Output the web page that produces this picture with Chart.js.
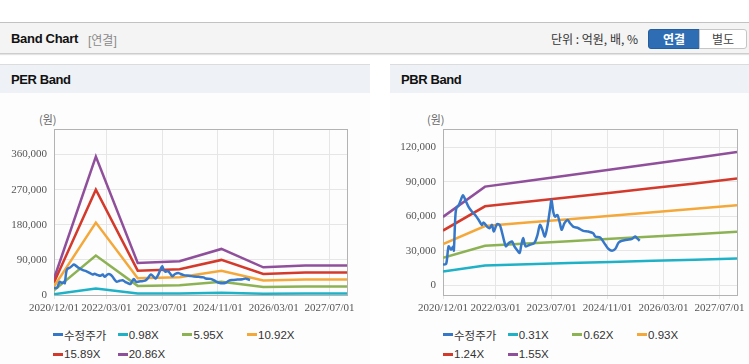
<!DOCTYPE html>
<html>
  <head>
    <meta charset="UTF-8" />
    <title>Band Chart</title>
    <script src="https://cdn.jsdelivr.net/npm/chart.js"></script>
    <style>
      body {
        margin: 0;
        width: 749px;
        height: 364px;
        overflow: hidden;
        background: #fff;
        position: relative;
        font-family: "Liberation Sans", "Noto Sans CJK KR", sans-serif;
      }

      .topbar {
        position: absolute;
        left: 0;
        top: 22px;
        width: 749px;
        height: 30px;
        background: #f4f4f4;
        border-top: 1px solid #c2c2c2;
        border-bottom: 1px solid #cdcdcd;
        box-shadow: 0 1px 1px #e4e4e4;
      }

      .topbar .title {
        position: absolute;
        left: 11px;
        top: 8px;
        font-size: 13px;
        font-weight: bold;
        color: #111;
        letter-spacing: -0.3px;
      }

      .topbar .sub {
        position: absolute;
        left: 88px;
        top: 8px;
        font-size: 12px;
        color: #8a8a8a;
      }

      .topbar .unit {
        position: absolute;
        left: 551px;
        top: 8px;
        font-size: 12px;
        color: #333;
        font-family: "Noto Sans CJK KR", sans-serif;
        line-height: 15px;
      }

      .btn {
        position: absolute;
        top: 6px;
        height: 18px;
        line-height: 18px;
        text-align: center;
        font-size: 12px;
        font-family: "Noto Sans CJK KR", sans-serif;
      }

      .btn.on {
        left: 648px;
        width: 50px;
        background: #2e6db4;
        border: 1px solid #255d9d;
        border-radius: 3px 0 0 3px;
        color: #fff;
        font-weight: bold;
      }

      .btn.off {
        left: 699px;
        width: 46px;
        background: #fff;
        border: 1px solid #c6c6c6;
        border-radius: 0 3px 3px 0;
        color: #444;
      }

      .panel {
        position: absolute;
        top: 64px;
        height: 299px;
        background: #fdfdfd;
        border-top: 1px solid #dcdcdc;
        border-bottom: 1px solid #d0d0d0;
      }

      .panel-head {
        height: 28px;
        background: #eef1f6;
        font-size: 13px;
        font-weight: bold;
        color: #111;
        line-height: 30px;
        padding-left: 11px;
        letter-spacing: -0.4px;
      }

      .unit-label {
        position: absolute;
        top: 46px;
        font-size: 11px;
        color: #666;
        font-family: "Noto Sans CJK KR", sans-serif;
      }

      canvas {
        position: absolute;
        left: 0;
        top: 45px;
      }

      .legend {
        position: absolute;
        top: 257px;
        width: 260px;
      }

      .legend-item {
        display: inline-flex;
        align-items: center;
        width: 64.7px;
        height: 14.7px;
        font-size: 11.5px;
        color: #333;
        white-space: nowrap;
      }

      .legend-item i {
        display: inline-block;
        width: 10px;
        height: 3px;
        margin-right: 1px;
      }
    </style>
  </head>

  <body>
    <div class="topbar">
      <span class="title">Band Chart</span>
      <span class="sub">[연결]</span>
      <span class="unit">단위 : 억원, 배, %</span>
      <span class="btn on">연결</span>
      <span class="btn off">별도</span>
    </div>

    <!-- PER band -->
    <div class="panel" style="left: 0; width: 370px">
      <div class="panel-head">PER Band</div>
      <div class="unit-label" style="left: 39px">(원)</div>
      <canvas id="perChart" width="370" height="205"></canvas>
      <div class="legend" id="perLegend" style="left: 53px"></div>
    </div>

    <!-- PBR band -->
    <div class="panel" style="left: 390px; width: 359px">
      <div class="panel-head">PBR Band</div>
      <div class="unit-label" style="left: 37px">(원)</div>
      <canvas id="pbrChart" width="359" height="205"></canvas>
      <div class="legend" id="pbrLegend" style="left: 53px"></div>
    </div>

    <script>
      // x values are months counted from 2020/12/01
      const xTickMonths = [0, 15, 31, 47, 63, 79];
      const xTickLabels = [
        "2020/12/01",
        "2022/03/01",
        "2023/07/01",
        "2024/11/01",
        "2026/03/01",
        "2027/07/01",
      ];

      // adjusted share price (수정주가)
      const priceMonth = [
        0, 0.9, 1.6, 2.3, 2.9, 3.1, 3.5, 3.8, 4.5, 5.1, 5.7, 6.4, 7.3, 8.3,
        9.2, 10.2, 11.1, 11.6, 12.6, 13.3, 14, 14.5, 15.4, 16.2, 16.8, 17.5,
        18, 18.8, 19.7, 20.4, 21.1, 21.9, 22.3, 22.9, 23.6, 24.8, 26.1, 27,
        27.7, 28.4, 29.1, 29.9, 30.6, 31, 31.5, 32, 32.7, 33.4, 33.9, 34.7,
        35.6, 36.3, 37.2, 38.7, 40.1, 41.5, 42.9, 43.5, 44.9, 46.4, 47.3,
        48.3, 49.2, 50.2, 51.1, 52.6, 54, 54.9, 55.4, 56.2,
      ];
      const priceValue = [
        17900, 18500, 33700, 30800, 33700, 30000, 58200, 66800, 69700, 74000,
        78300, 74000, 68200, 63900, 61000, 56700, 52400, 54400, 50900, 49500,
        52400, 46600, 53000, 52400, 46600, 38000, 33700, 36600, 38000, 33700,
        30800, 28000, 33700, 40900, 33700, 35100, 36600, 43800, 52400, 48100,
        42300, 52400, 66800, 74000, 63900, 59600, 61000, 53900, 48100, 53900,
        56700, 53900, 50900, 49500, 47200, 46600, 45200, 42300, 41400, 35100,
        31400, 30000, 31400, 37100, 38600, 39500, 40300, 42300, 40900, 38600,
      ];

      // band lines, one point per December
      const bandMonth = [0, 12, 24, 36, 48, 60, 72, 84];

      const perLabels = ["0.98X", "5.95X", "10.92X", "15.89X", "20.86X"];
      const per098 = [1960, 16660, 3850, 4070, 5550, 3330, 3550, 3550];
      const per595 = [11900, 101150, 23380, 24690, 33680, 20230, 21540, 21540];
      const per1092 = [21840, 185640, 42920, 45320, 61810, 37130, 39530, 39530];
      const per1589 = [31780, 270130, 62450, 65940, 89940, 54030, 57520, 57520];
      const per2086 = [41720, 354620, 81980, 86570, 118070, 70920, 75510, 75510];
      const perYTicks = [0, 90000, 180000, 270000, 360000];

      const pbrLabels = ["0.31X", "0.62X", "0.93X", "1.24X", "1.55X"];
      const pbr031 = [11870, 17140, 18140, 19130, 20120, 21110, 22130, 23190];
      const pbr062 = [23750, 34290, 36270, 38250, 40240, 42220, 44270, 46380];
      const pbr093 = [35620, 51430, 54410, 57380, 60360, 63330, 66400, 69560];
      const pbr124 = [47490, 68570, 72540, 76510, 80480, 84440, 88540, 92750];
      const pbr155 = [59370, 85720, 90680, 95640, 100600, 105560, 110670, 115940];
      const pbrYTicks = [0, 30000, 60000, 90000, 120000];

      const colors = ["#3677c8", "#1fb1c6", "#8db253", "#f4a83a", "#d43a2b", "#904f9b"];

      // frame around the plot area
      const plotBorder = {
        id: "plotBorder",
        beforeDatasetsDraw(chart) {
          const a = chart.chartArea;
          const ctx = chart.ctx;
          ctx.save();
          ctx.strokeStyle = "#b3b3b3";
          ctx.lineWidth = 1;
          ctx.strokeRect(
            Math.round(a.left) + 0.5,
            Math.round(a.top) + 0.5,
            Math.round(a.right - a.left),
            Math.round(a.bottom - a.top)
          );
          ctx.restore();
        },
      };

      function toPoints(xs, ys) {
        return xs.map((x, i) => ({ x: x, y: ys[i] }));
      }

      function makeChart(id, legendId, labels, bands, yMin, yMax, yTicks, yWidth, padRight) {
        const datasets = [
          {
            label: "수정주가",
            data: toPoints(priceMonth, priceValue),
            borderColor: colors[0],
            tension: 0.3,
          },
        ];
        bands.forEach((b, i) => {
          datasets.push({
            label: labels[i],
            data: toPoints(bandMonth, b),
            borderColor: colors[i + 1],
            tension: 0,
          });
        });

        const chart = new Chart(document.getElementById(id), {
          type: "line",
          data: { datasets: datasets },
          options: {
            responsive: false,
            animation: false,
            layout: { padding: { top: 19, right: padRight, bottom: 0, left: 0 } },
            elements: {
              point: { radius: 0 },
              line: { borderWidth: 2.5 },
            },
            plugins: { legend: { display: false }, tooltip: { enabled: false } },
            scales: {
              x: {
                type: "linear",
                min: 0,
                max: 84,
                border: { display: false },
                grid: { color: "#e6e6e6", tickLength: 4 },
                afterBuildTicks: (s) => {
                  s.ticks = xTickMonths.map((v) => ({ value: v }));
                },
                afterFit: (s) => {
                  s.height = 20;
                },
                ticks: {
                  autoSkip: false,
                  maxRotation: 0,
                  padding: 3,
                  color: "#555",
                  font: { family: "Liberation Sans Narrow", size: 11 },
                  callback: (v, i) => xTickLabels[i],
                },
              },
              y: {
                min: yMin,
                max: yMax,
                border: { display: false },
                grid: { color: "#e6e6e6", drawTicks: false },
                afterBuildTicks: (s) => {
                  s.ticks = yTicks.map((v) => ({ value: v }));
                },
                afterFit: (s) => {
                  s.width = yWidth;
                },
                ticks: {
                  padding: 7,
                  color: "#555",
                  font: { family: "Liberation Sans Narrow", size: 11 },
                  callback: (v) => v.toLocaleString("en-US"),
                },
              },
            },
          },
          plugins: [plotBorder],
        });

        // html legend in fixed columns
        const box = document.getElementById(legendId);
        chart.data.datasets.forEach((ds) => {
          const item = document.createElement("span");
          item.className = "legend-item";
          item.innerHTML = '<i style="background:' + ds.borderColor + '"></i>' + ds.label;
          box.appendChild(item);
        });
        return chart;
      }

      makeChart(
        "perChart",
        "perLegend",
        perLabels,
        [per098, per595, per1092, per1589, per2086],
        0,
        425500,
        perYTicks,
        54,
        23
      );
      makeChart(
        "pbrChart",
        "pbrLegend",
        pbrLabels,
        [pbr031, pbr062, pbr093, pbr124, pbr155],
        -8630,
        135900,
        pbrYTicks,
        53,
        12
      );
    </script>
  </body>
</html>
